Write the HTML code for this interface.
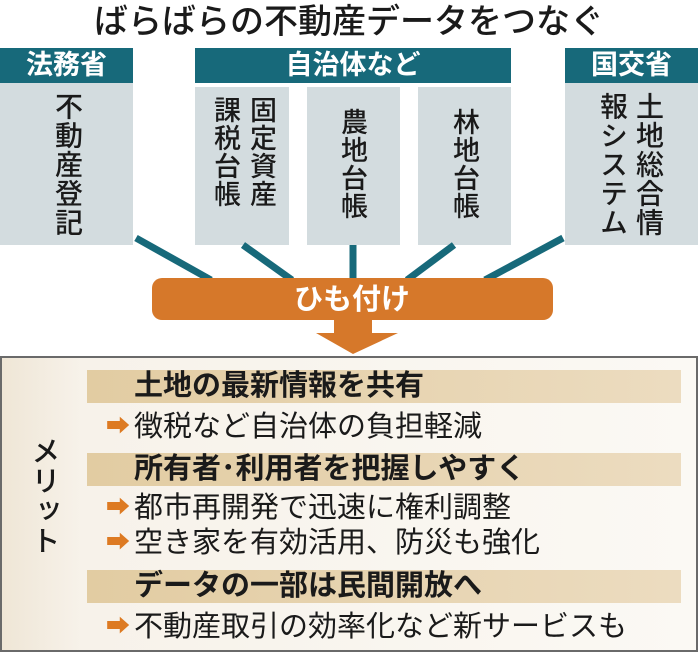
<!DOCTYPE html>
<html><head><meta charset="utf-8"><style>
body{margin:0;width:698px;height:650px;background:#fff;position:relative;overflow:hidden;font-family:"Liberation Sans","Noto Sans CJK JP",sans-serif;color:#1a1a1a}
.a{position:absolute}
.hd{position:absolute;background:#17697a;color:#fff;font-weight:bold;font-size:27px;text-align:center;line-height:35px;top:48px;height:35px}
.gb{position:absolute;background:#d3dcdf}
.v{position:absolute;writing-mode:vertical-rl;font-size:28px;line-height:32px;letter-spacing:1px;font-weight:500}
.bar{position:absolute;left:87px;width:594px;height:33px;background:linear-gradient(90deg,#e2ccA2,#ecdcc0);font-weight:bold;font-size:29px;line-height:33px;padding-left:47px;box-sizing:border-box;white-space:nowrap}
.li{position:absolute;left:106px;font-size:29px;line-height:32px;white-space:nowrap}
.li span{display:inline-block;width:28px;color:#dd7a22;font-size:24px;vertical-align:2px}
</style></head><body>
<div class="a" style="left:0;width:698px;top:2px;text-align:center;font-size:34px;line-height:40px;font-weight:500">ばらばらの不動産データをつなぐ</div>
<div class="hd" style="left:0;width:133px">法務省</div>
<div class="hd" style="left:195px;width:316px">自治体など</div>
<div class="hd" style="left:565px;width:133px">国交省</div>
<div class="gb" style="left:0;width:133px;top:83px;height:162px"></div>
<div class="gb" style="left:195px;width:94px;top:87px;height:158px"></div>
<div class="gb" style="left:307px;width:93px;top:87px;height:158px"></div>
<div class="gb" style="left:418px;width:93px;top:87px;height:158px"></div>
<div class="gb" style="left:565px;width:133px;top:83px;height:162px"></div>
<div class="v" style="left:51px;top:92px;height:150px">不動産登記</div>
<div class="v" style="left:207px;top:96px;font-size:27px;height:128px;line-height:36px">固定資産課税台帳</div>
<div class="v" style="left:336px;top:108px;font-size:27px;height:128px">農地台帳</div>
<div class="v" style="left:448px;top:108px;font-size:27px;height:128px">林地台帳</div>
<div class="v" style="left:594px;top:92px;height:150px;line-height:36px">土地総合情報システム</div>
<svg class="a" style="left:0;top:0" width="698" height="360">
<g stroke="#17697a" stroke-width="7">
<line x1="136" y1="238" x2="211" y2="280"/>
<line x1="243" y1="245" x2="292" y2="280"/>
<line x1="353" y1="245" x2="353" y2="280"/>
<line x1="454" y1="245" x2="407" y2="280"/>
<line x1="563" y1="238" x2="485" y2="280"/>
</g>
<rect x="152" y="278" width="401" height="42" rx="10" fill="#d6782a"/>
<polygon points="334,320 372,320 372,333 398,333 353,354 316,333 334,333" fill="#d6782a"/>
<text x="352" y="309" font-size="29" font-weight="bold" fill="#fff" text-anchor="middle" font-family="Liberation Sans, Noto Sans CJK JP, sans-serif">ひも付け</text>
</svg>
<div class="a" style="left:0;top:356px;width:694px;height:292px;border:2px solid #6a6a6a;background:linear-gradient(90deg,#efe6d6 0,#f7f2ea 80px,#fbf9f4 100%)"></div>
<div class="v" style="left:27px;top:436px;font-size:29px">メリット</div>
<div class="bar" style="top:370px">土地の最新情報を共有</div>
<div class="li" style="top:411px"><span>➡</span>徴税など自治体の負担軽減</div>
<div class="bar" style="top:453px">所有者･利用者を把握しやすく</div>
<div class="li" style="top:492px"><span>➡</span>都市再開発で迅速に権利調整</div>
<div class="li" style="top:527px"><span>➡</span>空き家を有効活用、防災も強化</div>
<div class="bar" style="top:570px">データの一部は民間開放へ</div>
<div class="li" style="top:611px"><span>➡</span>不動産取引の効率化など新サービスも</div>
</body></html>
